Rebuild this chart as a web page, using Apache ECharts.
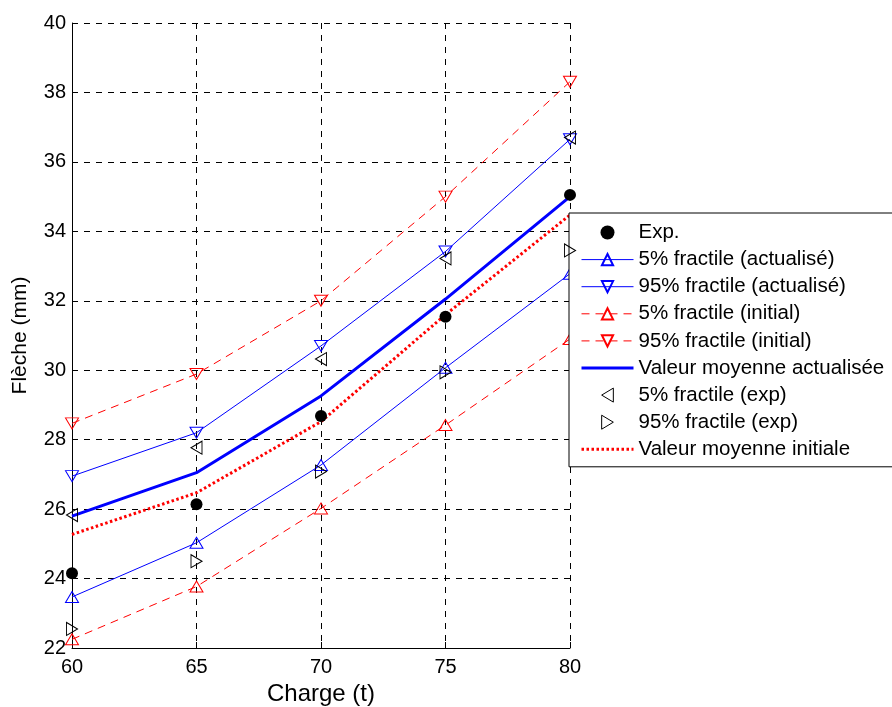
<!DOCTYPE html>
<html>
<head>
<meta charset="utf-8">
<script src="https://cdn.jsdelivr.net/npm/echarts@6/dist/echarts.min.js"></script>
<style>
html,body{margin:0;padding:0;background:#fff;}
#chart{width:892px;height:707px;}
</style>
</head>
<body>
<div id="chart"></div>
<script>
var charges = [60, 65, 70, 75, 80];
var expVals = [24.15, 26.14, 28.68, 31.54, 35.05];
var act5 = [23.47, 25.03, 27.27, 30.07, 32.78];
var act95 = [26.95, 28.2, 30.70, 33.42, 36.65];
var init5 = [22.25, 23.77, 26.02, 28.42, 30.9];
var init95 = [28.47, 29.89, 32.0, 35.0, 38.31];
var meanAct = [25.8, 27.05, 29.26, 32.05, 35.0];
var exp5 = [25.83, 27.77, 30.32, 33.22, 36.70];
var exp95 = [22.55, 24.5, 27.08, 29.94, 33.45];
var meanInit = [25.27, 26.47, 28.52, 31.6, 34.47];

var seriesNames = ['Exp.', '5% fractile (actualisé)', '95% fractile (actualisé)', '5% fractile (initial)', '95% fractile (initial)', 'Valeur moyenne actualisée', '5% fractile (exp)', '95% fractile (exp)', 'Valeur moyenne initiale'];

function pairs(vals) { return charges.map(function (c, i) { return [c, vals[i]]; }); }

var FONT = 'Liberation Sans, Arial, sans-serif';
var BLUE = '#0000ff', RED = '#ff0000';

function triLine(name, vals, color, rot, dashed) {
  return {
    name: name, type: 'line', data: pairs(vals),
    symbol: 'triangle', symbolSize: [13, 11], symbolRotate: rot,
    showSymbol: true,
    lineStyle: { color: color, width: 1, type: dashed ? [8, 6] : 'solid' },
    itemStyle: { color: 'transparent', borderColor: color, borderWidth: 1 },
    emphasis: { disabled: true }, animation: false, z: 3
  };
}
function scatterS(name, vals, symbol, rot, size, filled) {
  return {
    name: name, type: 'scatter', data: pairs(vals),
    symbol: symbol, symbolSize: size, symbolRotate: rot,
    itemStyle: filled ? { color: '#000', opacity: 1 } : { color: 'transparent', borderColor: '#000', borderWidth: 1, opacity: 1 },
    emphasis: { disabled: true }, animation: false, z: 4
  };
}

var legendData = [
  { name: seriesNames[0], icon: 'circle', itemStyle: { color: '#000', opacity: 1 } },
  { name: seriesNames[1], lineStyle: { width: 1, color: BLUE, type: 'solid' } },
  { name: seriesNames[2], lineStyle: { width: 1, color: BLUE, type: 'solid' } },
  { name: seriesNames[3], lineStyle: { width: 1, color: RED, type: [8, 6] } },
  { name: seriesNames[4], lineStyle: { width: 1, color: RED, type: [8, 6] } },
  { name: seriesNames[5], lineStyle: { width: 3, color: BLUE, type: 'solid' }, itemStyle: { opacity: 0 } },
  { name: seriesNames[6], icon: 'path://M10,0 L0,6 L10,12 Z', itemStyle: { color: 'transparent', borderColor: '#000', borderWidth: 1 } },
  { name: seriesNames[7], icon: 'path://M0,0 L10,6 L0,12 Z', itemStyle: { color: 'transparent', borderColor: '#000', borderWidth: 1 } },
  { name: seriesNames[8], lineStyle: { width: 3, color: RED, type: [2.5, 2.5] }, itemStyle: { opacity: 0 } }
];

var chart = echarts.init(document.getElementById('chart'));
chart.setOption({
  backgroundColor: '#fff',
  animation: false,
  grid: { left: 72, right: 322, top: 23, bottom: 59, containLabel: false, outerBoundsMode: 'none' },
  xAxis: {
    type: 'value', min: 60, max: 80, interval: 5,
    name: 'Charge (t)', nameLocation: 'middle', nameGap: 32,
    nameTextStyle: { fontFamily: FONT, fontSize: 24, color: '#000' },
    axisLine: { show: true, onZero: false, lineStyle: { color: '#000', width: 1 } },
    axisTick: { show: true, inside: true, length: 6, lineStyle: { color: '#000' } },
    axisLabel: { fontFamily: FONT, fontSize: 20, color: '#000', margin: 9 },
    splitLine: { show: true, lineStyle: { color: '#000', width: 1, type: [6, 6] } }
  },
  yAxis: {
    type: 'value', min: 22, max: 40, interval: 2,
    name: 'Flèche (mm)', nameLocation: 'middle', nameGap: 41, nameRotate: 90,
    nameTextStyle: { fontFamily: FONT, fontSize: 21, color: '#000' },
    axisLine: { show: true, onZero: false, lineStyle: { color: '#000', width: 1 } },
    axisTick: { show: true, inside: true, length: 6, lineStyle: { color: '#000' } },
    axisLabel: { fontFamily: FONT, fontSize: 20, color: '#000', margin: 6 },
    splitLine: { show: true, lineStyle: { color: '#000', width: 1, type: [6, 6] } }
  },
  legend: {
    orient: 'vertical', left: 569, top: 213,
    backgroundColor: '#fff', borderColor: '#000', borderWidth: 1, borderRadius: 0,
    padding: [9, 40, 7, 11],
    itemWidth: 52, itemHeight: 14, itemGap: 6.1,
    textStyle: { fontFamily: FONT, fontSize: 20.5, color: '#000' },
    data: legendData,
    selectedMode: false
  },
  series: [
    scatterS(seriesNames[0], expVals, 'circle', 0, 12, true),
    triLine(seriesNames[1], act5, BLUE, 0, false),
    triLine(seriesNames[2], act95, BLUE, 180, false),
    triLine(seriesNames[3], init5, RED, 0, true),
    triLine(seriesNames[4], init95, RED, 180, true),
    {
      name: seriesNames[5], type: 'line', data: pairs(meanAct), symbol: 'none',
      lineStyle: { color: BLUE, width: 3 }, itemStyle: { color: BLUE },
      emphasis: { disabled: true }, animation: false, z: 3
    },
    scatterS(seriesNames[6], exp5, 'triangle', 90, [13, 11], false),
    scatterS(seriesNames[7], exp95, 'triangle', -90, [13, 11], false),
    {
      name: seriesNames[8], type: 'line', data: pairs(meanInit), symbol: 'none',
      lineStyle: { color: RED, width: 3, type: [2.5, 2.5] }, itemStyle: { color: RED },
      emphasis: { disabled: true }, animation: false, z: 3
    }
  ]
});
</script>
</body>
</html>
